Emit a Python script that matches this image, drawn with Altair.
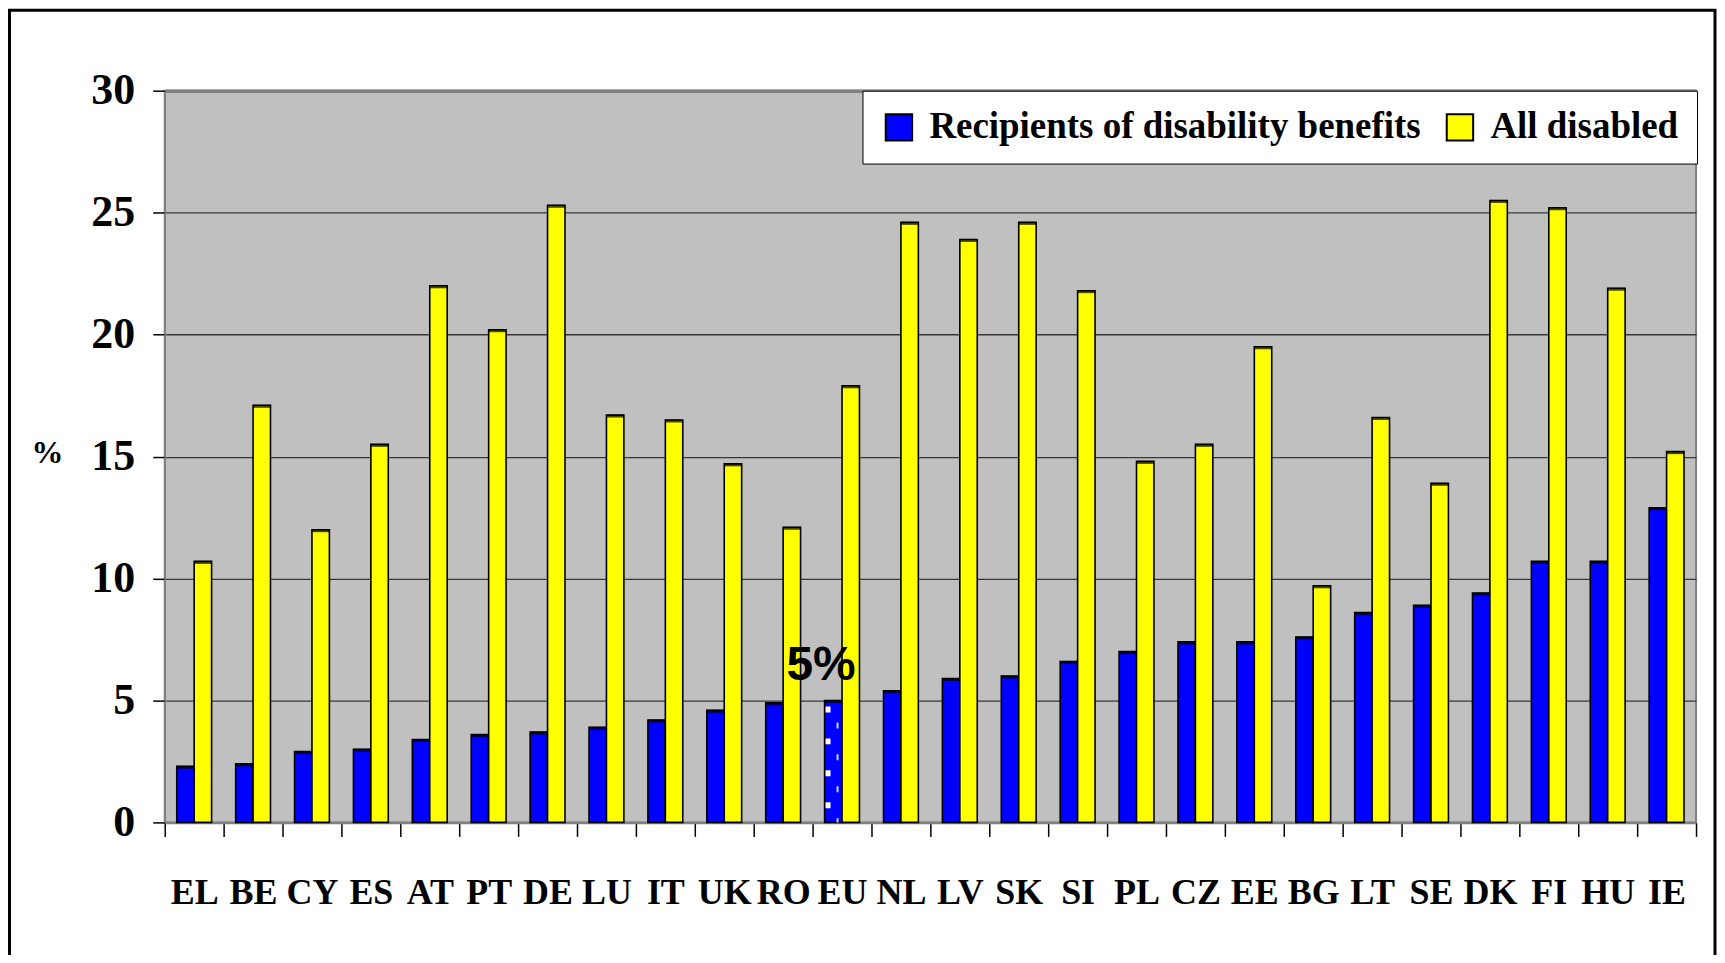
import altair as alt
import pandas as pd

countries = ["EL", "BE", "CY", "ES", "AT", "PT", "DE", "LU", "IT", "UK", "RO", "EU", "NL",
             "LV", "SK", "SI", "PL", "CZ", "EE", "BG", "LT", "SE", "DK", "FI", "HU", "IE"]
recipients = [2.3, 2.4, 2.9, 3.0, 3.4, 3.6, 3.7, 3.9, 4.2, 4.6, 4.9, 5.0, 5.4,
              5.9, 6.0, 6.6, 7.0, 7.4, 7.4, 7.6, 8.6, 8.9, 9.4, 10.7, 10.7, 12.9]
all_disabled = [10.7, 17.1, 12.0, 15.5, 22.0, 20.2, 25.3, 16.7, 16.5, 14.7, 12.1, 17.9, 24.6,
                23.9, 24.6, 21.8, 14.8, 15.5, 19.5, 9.7, 16.6, 13.9, 25.5, 25.2, 21.9, 15.2]
series_names = ["Recipients of disability benefits", "All disabled"]
series_colors = ["#0000FF", "#FFFF00"]
y_ticks = [0, 5, 10, 15, 20, 25, 30]
annotation_country = "EU"
annotation_text = "5%"

rows = []
for c, r, a in zip(countries, recipients, all_disabled):
    rows.append({"country": c, "series": series_names[0], "value": r})
    rows.append({"country": c, "series": series_names[1], "value": a})
df = pd.DataFrame(rows)

eu_idx = countries.index(annotation_country)
eu_df = pd.DataFrame([{"country": annotation_country, "series": series_names[0],
                       "value": recipients[eu_idx], "label": annotation_text}])
frame_df = pd.DataFrame([{"k": 1}])

W, H = 1534, 733
SERIF = "Liberation Serif"

x_enc = alt.X(
    "country:N", sort=countries,
    scale=alt.Scale(paddingInner=0, paddingOuter=0),
    axis=alt.Axis(
        title=None, labelAngle=0, tickBand="extent", grid=False,
        labelFont=SERIF, labelFontWeight="bold", labelFontSize=36, labelColor="black",
        labelPadding=39, tickColor="black", tickSize=14, tickWidth=1.5,
        domainColor="#808080", domainWidth=2.5,
    ),
)
xoff_enc = alt.XOffset("series:N", sort=series_names,
                       scale=alt.Scale(paddingOuter=0.69, paddingInner=0))
y_enc = alt.Y(
    "value:Q",
    scale=alt.Scale(domain=[0, 30], nice=False),
    axis=alt.Axis(
        values=y_ticks, title="%", titleAngle=0, titleX=-118, titleY=362,
        titleFont=SERIF, titleFontWeight="bold", titleFontSize=32, titleColor="black",
        titleAlign="center", titleBaseline="middle",
        labelFont=SERIF, labelFontWeight="bold", labelFontSize=44, labelColor="black",
        labelPadding=18, tickColor="black", tickSize=12, tickWidth=1.5,
        domainColor="#808080", domainWidth=1.5,
        grid=True,
        gridColor={"condition": {"test": "datum.value == 30 || datum.value == 0", "value": "#808080"},
                   "value": "#383838"},
        gridWidth={"condition": {"test": "datum.value == 30", "value": 3.5}, "value": 1.3},
    ),
)

color_enc = alt.Color(
    "series:N", sort=series_names,
    scale=alt.Scale(domain=series_names, range=series_colors),
    legend=alt.Legend(
        title=None, orient="none", legendX=699, legendY=0, direction="horizontal",
        fillColor="white", strokeColor="black", padding=18,
        labelFont=SERIF, labelFontWeight="bold", labelFontSize=37, labelColor="black",
        symbolType="square", symbolSize=700, symbolStrokeColor="black",
        symbolStrokeWidth=2, symbolOpacity=1, labelOffset=12, columnPadding=20,
        labelLimit=800,
    ),
)

bars = alt.Chart(df).mark_bar(stroke="black", strokeWidth=1.6, opacity=1).encode(
    x=x_enc, xOffset=xoff_enc, y=y_enc, color=color_enc
)

caps = alt.Chart(df).mark_tick(color="black", thickness=3, size=17, yOffset=1).encode(
    x=alt.X("country:N", sort=countries),
    xOffset=alt.XOffset("series:N", sort=series_names),
    y=alt.Y("value:Q"),
)

eu_dots = alt.Chart(eu_df).mark_rule(
    color="white", strokeWidth=5, strokeDash=[6, 26], strokeDashOffset=26, xOffset=-14
).encode(
    x=alt.X("country:N", sort=countries),
    y=alt.Y("value:Q"), y2=alt.datum(0),
)
eu_dash = alt.Chart(eu_df).mark_rule(
    color="#d0d0ff", strokeWidth=2, strokeDash=[6, 26], strokeDashOffset=10, xOffset=-4.5
).encode(
    x=alt.X("country:N", sort=countries),
    y=alt.Y("value:Q"), y2=alt.datum(0),
)

label = alt.Chart(eu_df).mark_text(
    font="Liberation Sans", fontWeight="bold", fontSize=48, color="black",
    align="center", baseline="alphabetic", dx=-21, dy=-20,
).encode(
    x=alt.X("country:N", sort=countries),
    y=alt.Y("value:Q"),
    text="label:N",
)

frame = alt.Chart(frame_df).mark_rect(
    fill=None, stroke="black", strokeWidth=3, clip=False
).encode(
    x=alt.value(-155.5), x2=alt.value(1553), y=alt.value(-80.5), y2=alt.value(920),
)

chart = alt.layer(bars, caps, eu_dots, eu_dash, label, frame).properties(
    width=W, height=H,
    autosize=alt.AutoSizeParams(type="none"),
    padding={"left": 157, "top": 82, "right": 21, "bottom": 132},
    background="white",
).configure_view(
    fill="#C0C0C0", stroke="#808080", strokeWidth=2
)

chart.save("out.html", embed_options={"renderer": "svg", "actions": False})
